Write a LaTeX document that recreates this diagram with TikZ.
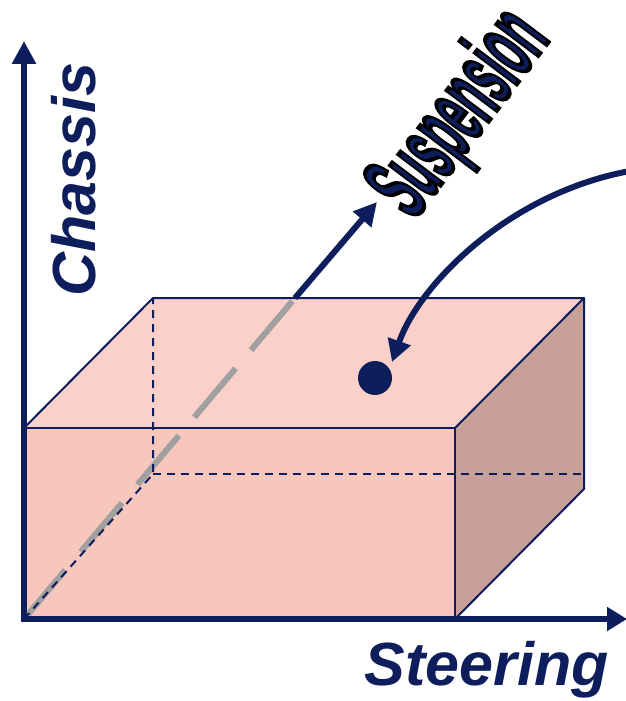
\documentclass[tikz,border=0pt]{standalone}
\usepackage{fontspec}
\setmainfont{Liberation Sans}
\usetikzlibrary{arrows.meta,calc}
\definecolor{axisnavy}{RGB}{14,30,92}
\definecolor{facefront}{RGB}{247,198,188}
\definecolor{facetop}{RGB}{250,208,201}
\definecolor{faceside}{RGB}{199,160,153}
\definecolor{axisgray}{RGB}{160,160,160}
\newcommand{\rimtext}[1]{\special{pdf:literal direct 0 G 2 Tr 4.5 w}#1\special{pdf:literal direct 0 Tr}}

\begin{document}
\begin{tikzpicture}[x=1pt, y=-1pt,
    axis/.style={line width=6pt, draw=axisnavy, line join=miter},
    edge/.style={line width=2pt, draw=axisnavy, line join=round},
    hidden/.style={line width=2pt, draw=axisnavy, dash pattern=on 8pt off 6pt},
    axislabel/.style={text=axisnavy, inner sep=0pt,
        font=\fontsize{61}{61}\selectfont\bfseries\itshape},
    susplabel/.style={inner sep=0pt, rotate=53, anchor=base, text=axisnavy,
        font=\fontsize{98}{98}\selectfont\bfseries}]
    \useasboundingbox (0,0) rectangle (626,701);
    % corners of the box
    \coordinate (O) at (24,619);
    \coordinate (FTL) at (24,428);
    \coordinate (FTR) at (455,428);
    \coordinate (FBR) at (455,619);
    \coordinate (BTL) at (153,298);
    \coordinate (BTR) at (584,298);
    \coordinate (BBR) at (584,489);
    \coordinate (BBL) at (153,474);
    \coordinate (BBM) at (584,474);
    % faces
    \fill[facefront] (O) rectangle (FTR);
    \fill[facetop] (FTL) -- (BTL) -- (BTR) -- (FTR) -- cycle;
    \fill[faceside] (FTR) -- (BTR) -- (BBR) -- (FBR) -- cycle;
    % suspension axis, grey inside the box
    \coordinate (Sin) at (295,298);
    \coordinate (S) at (377,202);
    \draw[line width=6pt, axisgray, dash pattern=on 64pt off 24pt] (O) -- (Sin);
    \draw[axis, -{Triangle[length=23pt,width=23pt]}] (Sin) -- (S);
    % hidden edges
    \draw[hidden] (O) -- (BBL) -- (BTL);
    \draw[hidden] (BBL) -- (BBM);
    % visible edges
    \draw[edge] (O) rectangle (FTR);
    \draw[edge] (FTL) -- (BTL) -- (BTR) -- (FTR);
    \draw[edge] (BTR) -- (BBR) -- (FBR);
    % chassis and steering axes
    \coordinate (C) at (24,41);
    \coordinate (T) at (627,619);
    \draw[axis, {Triangle[length=23pt,width=23pt]}-{Triangle[length=20pt,width=23pt]}]
        (C) -- (O) -- (T);
    \node[axislabel, rotate=90] (chassis) at (74,180) {Chassis};
    \node[axislabel, anchor=base] (steering) at (487,685) {Steering};
    % point in the box and the arrow to it
    \node[circle, fill=axisnavy, minimum size=34pt, inner sep=0pt] (dot) at (375,378) {};
    \coordinate (from) at (630,171);
    \coordinate (to) at (392,362);
    \draw[axis, -{Triangle[length=22pt,width=23pt]}]
        (from) .. controls (510,193) and (420,283) .. (to);
    % suspension label with dark rim
    \node[susplabel] (susp) at (482,130) {\scalebox{0.41}[1]{\rimtext{Suspension}}};
\end{tikzpicture}
\end{document}
